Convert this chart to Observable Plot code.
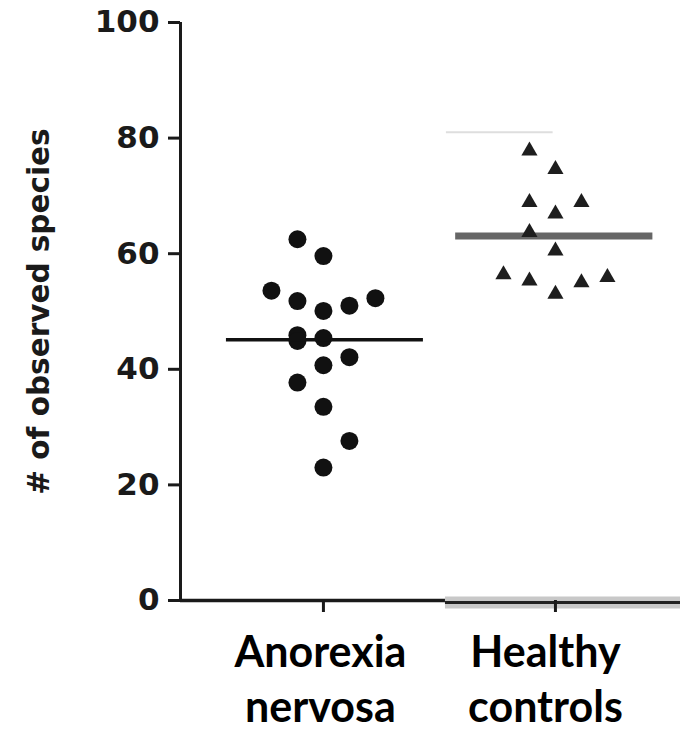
<!DOCTYPE html>
<html>
<head>
<meta charset="utf-8">
<script src="https://cdn.jsdelivr.net/npm/d3@7"></script>
<script src="https://cdn.jsdelivr.net/npm/@observablehq/plot@0.6"></script>
<style>
  html, body { margin: 0; padding: 0; background: #fff; }
</style>
</head>
<body>
<div id="chart"></div>
<script>
// ---- data ----
const groupLabels = ["Anorexia\nnervosa", "Healthy\ncontrols"];
const yTicks = [0, 20, 40, 60, 80, 100];
const yLabel = "# of observed species";

// Anorexia nervosa: observed species per subject, with beeswarm column slot
const anValues  = [62.5, 59.6, 53.6, 51.8, 50.1, 51.0, 52.3, 45.9, 44.9, 45.4, 42.1, 40.7, 37.7, 33.5, 27.6, 23.0];
const anColumns = [-1,   0,    -2,   -1,   0,    1,    2,    -1,   -1,   0,    1,    0,    -1,   0,    1,    0];

// Healthy controls
const hcValues  = [77.8, 74.6, 68.9, 66.9, 68.9, 63.7, 60.5, 56.4, 55.3, 53.0, 55.0, 55.9];
const hcColumns = [-1,   0,    -1,   0,    1,    -1,   0,    -2,   -1,   0,    1,    2];

// faint upper line above the healthy group (as in the picture)
const hcUpper = [81];

// ---- build tables ----
const step = 0.112;
const an = anValues.map((v, i) => ({g: 0, v, c: anColumns[i]}));
const hc = hcValues.map((v, i) => ({g: 1, v, c: hcColumns[i]}));
const means = [
  {g: 0, m: d3.mean(anValues)},
  {g: 1, m: d3.mean(hcValues)}
];
const labels = groupLabels.map((t, i) => ({t, i}));

const xMin = -0.616, xMax = 1.539, split = 0.526;
const labelStyle = {
  x: "i", y: 0, text: "t", lineAnchor: "top", dy: 27, textAnchor: "middle",
  fontSize: 43, fontWeight: "bold", fontFamily: "Lato", lineHeight: 1.28, fill: "#000"
};

const chart = Plot.plot({
  width: 680,
  height: 730,
  marginLeft: 180,
  marginRight: 0,
  marginTop: 22,
  marginBottom: 130,
  x: {domain: [xMin, xMax], axis: null},
  y: {domain: [0, 100], axis: null},
  style: {fontFamily: "DejaVu Sans", background: "white", color: "#1a1a1a"},
  marks: [
    Plot.ruleY(hcUpper, {x1: 0.53, x2: 0.99, stroke: "#dedede", strokeWidth: 2}),
    // y axis
    Plot.axisY({ticks: yTicks, tickSize: 12, tickPadding: 9, strokeWidth: 3, fontSize: 31, fontWeight: "bold", label: null}),
    Plot.ruleX([xMin], {y1: 0, y2: 100, strokeWidth: 3, stroke: "#1a1a1a"}),
    // x axis baseline (left part black, right part with gray halo)
    Plot.ruleY([0], {x1: split, x2: xMax, stroke: "#c8c8c8", strokeWidth: 12, dy: 2}),
    Plot.ruleY([0], {x1: split, x2: xMax, stroke: "#222", strokeWidth: 3, dy: 2}),
    Plot.ruleY([0], {x1: xMin, x2: split, stroke: "#1a1a1a", strokeWidth: 3.5}),
    Plot.axisX({ticks: [0, 1], tickSize: 12, strokeWidth: 3, tickFormat: () => "", label: null}),
    Plot.text(labels.filter(d => d.i === 0), {...labelStyle, dx: -3}),
    Plot.text(labels.filter(d => d.i === 1), {...labelStyle, dx: -10}),
    // y label
    Plot.text([yLabel], {
      frameAnchor: "left", rotate: -90, dx: -141, textAnchor: "middle", lineAnchor: "middle",
      fontSize: 29.5, fontWeight: "bold", fill: "#1a1a1a"
    }),
    // mean lines
    Plot.ruleY(means.filter(d => d.g === 1), {y: "m", x1: d => d.g - 0.43, x2: d => d.g + 0.42, stroke: "#666", strokeWidth: 7}),
    // points
    Plot.dot(an, {x: d => d.g + d.c * step, y: "v", r: 9, fill: "#111", stroke: "none"}),
    Plot.dot(hc, {x: d => d.g + d.c * step, y: "v", r: 6, symbol: "triangle", fill: "#1e1e1e", stroke: "none"}),
    Plot.ruleY(means.filter(d => d.g === 0), {y: "m", x1: d => d.g - 0.418, x2: d => d.g + 0.431, stroke: "#111", strokeWidth: 3.5})
  ]
});
document.getElementById("chart").appendChild(chart);
</script>
</body>
</html>
